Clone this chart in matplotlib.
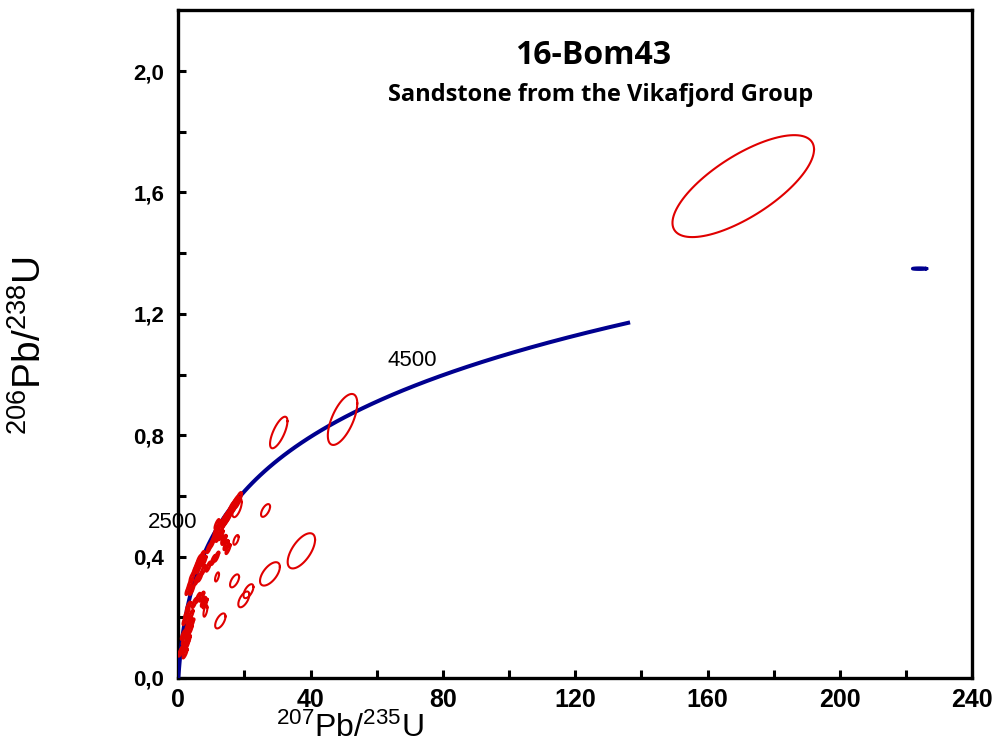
import numpy as np
import matplotlib
matplotlib.use("Agg")
import matplotlib.pyplot as plt

# ---------------- data ----------------
title = "16-Bom43"
subtitle = "Sandstone from the Vikafjord Group"
x_label = r"$\mathregular{^{207}Pb/^{235}U}$"
y_label = r"$\mathregular{^{206}Pb/^{238}U}$"

# concordia ages (Ma) and labelled ages
concordia_ages = np.arange(0, 5001, 50)
labelled_ages = [2500, 4500]
lambda235 = 9.8485e-10
lambda238 = 1.55125e-10

# red error ellipses: centre x, centre y, half-extent x, half-extent y, correlation
ell_x = [170.8, 49.65, 30.36, 26.37, 37.2, 27.7, 17.0, 21.2, 19.8, 12.7,
         17.45, 17.75, 11.7, 8.2, 14.6, 13.5]
ell_y = [1.621, 0.852, 0.809, 0.552, 0.419, 0.343, 0.320, 0.286, 0.259, 0.188,
         0.455, 0.561, 0.333, 0.221, 0.438, 0.455]
ell_ex = [21.4, 4.45, 2.63, 1.36, 4.14, 3.0, 1.36, 1.5, 1.66, 1.56,
          0.8, 1.42, 0.6, 0.6, 0.6, 0.5]
ell_ey = [0.168, 0.084, 0.052, 0.021, 0.058, 0.0385, 0.0214, 0.023, 0.026, 0.0247,
          0.016, 0.031, 0.015, 0.019, 0.016, 0.014]
ell_rho = [0.72, 0.63, 0.72, 0.6, 0.63, 0.6, 0.6, 0.6, 0.6, 0.6,
           0.6, 0.6, 0.6, 0.6, 0.6, 0.6]

# small (nearly filled) analyses in the dense cluster
small_x = [18.05, 17.15, 16.54, 15.94, 15.33, 14.73, 14.12, 13.52, 12.91, 12.31,
           11.70, 11.40, 12.00, 12.91, 13.82, 14.42, 15.03,
           11.61, 10.58, 9.07, 7.56, 6.05, 6.56, 5.56, 6.86, 7.77, 4.05,
           7.08, 7.56, 8.07, 5.96, 3.02, 2.54, 2.03, 4.05, 3.54, 1.51,
           3.02, 2.54, 1.03, 2.03, 0.73, 4.84, 3.84, 3.33, 2.84, 2.33, 1.81,
           2.93, 3.54, 4.14, 5.05, 5.65, 6.26, 7.17, 9.28, 10.19, 10.8]
small_y = [0.586, 0.573, 0.563, 0.554, 0.540, 0.530, 0.521, 0.511, 0.498, 0.488,
           0.507, 0.484, 0.465, 0.471, 0.455, 0.438, 0.425,
           0.400, 0.389, 0.367, 0.356, 0.361, 0.334, 0.323, 0.379, 0.386, 0.290,
           0.268, 0.251, 0.246, 0.264, 0.235, 0.213, 0.191, 0.180, 0.158, 0.142,
           0.125, 0.109, 0.092, 0.081, 0.087, 0.247, 0.208, 0.186, 0.169, 0.147, 0.125,
           0.290, 0.310, 0.333, 0.356, 0.372, 0.389, 0.402, 0.428, 0.445, 0.461]
small_ex = [1.1] * 10 + [0.7] * 48
small_ey = [0.026] * 10 + [0.016] * 48
small_rho = 0.8

# blue reference analysis
blue_x, blue_y, blue_ex, blue_ey = 224.1, 1.349, 2.1, 0.002

# axes / ticks
x_lim = (0, 240)
y_lim = (0, 2.2)
x_ticks = [0, 40, 80, 120, 160, 200, 240]
x_minor_ticks = [20, 60, 100, 140, 180, 220]
x_tick_labels = ["0", "40", "80", "120", "160", "200", "240"]
y_ticks = [0.0, 0.4, 0.8, 1.2, 1.6, 2.0]
y_minor_ticks = [0.2, 0.6, 1.0, 1.4, 1.8]
y_tick_labels = ["0,0", "0,4", "0,8", "1,2", "1,6", "2,0"]

RED = "#e00000"
NAVY = "#00008f"

# ---------------- plot ----------------
fig = plt.figure(figsize=(9.94, 7.46), dpi=100)
ax = fig.add_axes([0.1794, 0.0912, 0.7986, 0.8948])

t = concordia_ages * 1e6
cx = np.exp(lambda235 * t) - 1
cy = np.exp(lambda238 * t) - 1
ax.plot(cx, cy, color=NAVY, lw=2.9, solid_capstyle="butt", zorder=3)

for age in labelled_ages:
    tt = age * 1e6
    px, py = np.exp(lambda235 * tt) - 1, np.exp(lambda238 * tt) - 1
    ax.annotate(str(age), (px, py), xytext=(-29.5, 8.3), textcoords="offset points",
                ha="center", va="center", fontsize=16, family="Liberation Sans",
                annotation_clip=False, zorder=5)

theta = np.linspace(0, 2 * np.pi, 120)


def draw_ellipse(x, y, ex, ey, rho, color, lw):
    dx = ex * np.cos(theta)
    dy = ey * (rho * np.cos(theta) + np.sqrt(1 - rho ** 2) * np.sin(theta))
    ax.plot(x + dx, y + dy, color=color, lw=lw, zorder=4)


for x, y, ex, ey, r in zip(ell_x, ell_y, ell_ex, ell_ey, ell_rho):
    draw_ellipse(x, y, ex, ey, r, RED, 1.5)
for x, y, ex, ey in zip(small_x, small_y, small_ex, small_ey):
    draw_ellipse(x, y, ex, ey, small_rho, RED, 1.8)
draw_ellipse(blue_x, blue_y, blue_ex, blue_ey, 0.0, NAVY, 2.4)

ax.set_xlim(*x_lim)
ax.set_ylim(*y_lim)
ax.set_xticks(x_ticks)
ax.set_xticks(x_minor_ticks, minor=True)
ax.set_yticks(y_ticks)
ax.set_yticks(y_minor_ticks, minor=True)
ax.set_xticklabels(x_tick_labels, fontsize=18, fontweight="bold",
                   family="Liberation Sans")
ax.set_yticklabels(y_tick_labels, fontsize=16, fontweight="bold",
                   family="Liberation Sans")

ax.tick_params(which="both", direction="in", width=2.2, color="black", length=6)
ax.tick_params(axis="x", pad=7)
ax.tick_params(axis="y", pad=10)

for s in ax.spines.values():
    s.set_linewidth(2.4)
    s.set_color("black")

fig.text(350 / 994, 1 - 728 / 746, x_label, ha="center", va="center",
         fontsize=23, family="Liberation Sans")
fig.text(30 / 994, 1 - 345 / 746, y_label, ha="center", va="center",
         fontsize=28, family="Liberation Sans", rotation=90)

ax.text((593 - 178) / 794, 1 - (55 - 10) / 668, title, transform=ax.transAxes,
        ha="center", va="center", fontsize=23, fontweight="bold", family="Open Sans")
ax.text((600 - 178) / 794, 1 - (95 - 10) / 668, subtitle, transform=ax.transAxes,
        ha="center", va="center", fontsize=17, fontweight="bold", family="Open Sans")

fig.savefig("out.png", dpi=100, facecolor="white")
